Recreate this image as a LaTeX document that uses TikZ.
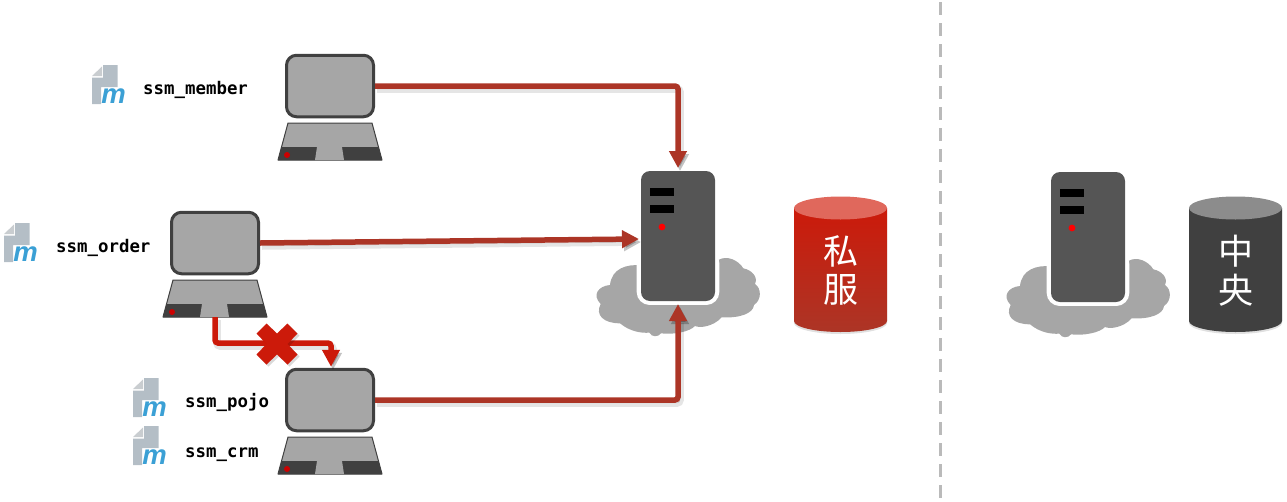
\documentclass[tikz,border=0pt]{standalone}
\usepackage{fontspec}
\setmonofont{DejaVu Sans Mono}
\setsansfont{Liberation Sans}
\newfontfamily\cjkfont{Noto Sans CJK SC}
\usetikzlibrary{arrows.meta,calc}
\definecolor{shellgray}{HTML}{A6A6A6}
\definecolor{edgegray}{HTML}{404040}
\definecolor{towergray}{HTML}{555555}
\definecolor{linkred}{HTML}{AC3526}
\definecolor{brightred}{HTML}{CC1A0A}
\definecolor{filegray}{HTML}{B4BEC6}
\definecolor{foldgray}{HTML}{C9CDD0}
\definecolor{mblue}{HTML}{3BA0D5}
\tikzset{
  x=1pt,y=-1pt,
  screenbox/.style={draw=edgegray,line width=3pt,fill=shellgray,rounded corners=10pt,minimum width=87pt,minimum height=61.5pt,inner sep=0pt,outer sep=1.5pt},
  towerbox/.style={fill=towergray,rounded corners=9pt,minimum width=74pt,minimum height=130pt,inner sep=0pt,outer sep=0pt},
  linkbase/.style={line width=5.5pt,rounded corners=3pt,-{Triangle[length=17pt,width=17pt]},
    preaction={draw=black,opacity=.10,line width=7.5pt,transform canvas={shift={(2,3)}}},
    preaction={draw=black,opacity=.15,transform canvas={shift={(2,3)}}}},
  darklink/.style={linkbase,draw=linkred},
  redlink/.style={linkbase,draw=brightred},
  pomlabel/.style={font=\ttfamily\bfseries\fontsize{17.4pt}{20pt}\selectfont,anchor=base west,inner sep=0pt,text=black},
  cjklabel/.style={font=\cjkfont\fontsize{35pt}{40pt}\selectfont,text=white,inner sep=0pt},
  mglyph/.style={font=\sffamily\bfseries\itshape\fontsize{27.5pt}{30pt}\selectfont,text=mblue,inner sep=0pt},
  laptop/.pic={
    \node[screenbox] (-screen) at (45,32) {};
    \fill[shellgray,draw=edgegray,line width=1pt,line join=round] (3,69) -- (87,69) -- (97,106) -- (-7,106) -- cycle;
    \fill[edgegray] (-3.5,93) -- (93.5,93) -- (97,106) -- (-7,106) -- cycle;
    \fill[shellgray] (32,93) -- (57,93) -- (59,106) -- (30,106) -- cycle;
    \fill[red!80!black] (2,101) circle (3);
    \coordinate (-pad) at (45,106);
  },
  pomicon/.pic={
    \fill[filegray] (0,12.5) -- (11,12.5) -- (11,0) -- (25.5,0) -- (25.5,22) -- (9,22) -- (9,39) -- (0,39) -- cycle;
    \fill[foldgray] (0,11) -- (10,1.5) -- (10,11) -- cycle;
    \node[mglyph] (-m) at (21.5,31) {m};
  },
  cloudshape/.pic={
    \begin{scope}[x=.3333pt,y=-.3333pt]
    \fill[shellgray] (183,316) .. controls (140,312) and (95,325) .. (90,375)
      .. controls (55,378) and (35,405) .. (62,432)
      .. controls (45,465) and (70,490) .. (120,490)
      .. controls (150,515) and (185,520) .. (208,518)
      .. controls (215,532) and (235,532) .. (243,520)
      .. controls (280,525) and (330,515) .. (345,498)
      .. controls (360,505) and (400,500) .. (425,472)
      .. controls (480,475) and (520,460) .. (522,435)
      .. controls (545,420) and (545,385) .. (525,372)
      .. controls (535,350) and (515,330) .. (490,325)
      .. controls (475,300) and (440,285) .. (415,300) -- cycle;
    \fill[white,rounded corners=13pt] (170,270) rectangle (418,435);
    \end{scope}
  },
  towerpic/.pic={
    \node[towerbox] (-box) at (37,65) {};
    \fill[black] (9,17) rectangle (33,25);
    \fill[black] (9,34) rectangle (33,42);
    \fill[red] (21,56) circle (3.4);
  }
}
\begin{document}
\begin{tikzpicture}
\useasboundingbox (0,0) rectangle (1287,501);
% divider
\coordinate (divtop) at (940,2);
\coordinate (divbot) at (940,501);
\draw[color=black!27,line width=3pt,dash pattern=on 13pt off 8pt] (divtop) -- (divbot);
% clouds and servers
\pic at (580,160) {cloudshape};
\pic at (990,161) {cloudshape};
\pic (srv) at (641,171) {towerpic};
\pic (hub) at (1051,172) {towerpic};
% laptops
\pic (mem) at (285,54) {laptop};
\pic (ord) at (170,211) {laptop};
\pic (poj) at (285,368) {laptop};
% links
\draw[darklink] (mem-screen.east) -| ([yshift=3pt]srv-box.north);
\draw[darklink] (ord-screen.east) -- ([xshift=-2pt,yshift=-3pt]srv-box.west);
\draw[darklink] (poj-screen.east) -| ([yshift=-3pt]srv-box.south);
\draw[redlink] (ord-pad) -- ++(0,26) -| ([xshift=1pt,yshift=1pt]poj-screen.north);
% cross
\fill[black,opacity=.15,shift={(279,346)}] (-20.5,-10.5) -- (-10.5,-20.5) -- (0,-10.5) -- (10.5,-20.5) -- (20.5,-10.5) -- (10.5,0) -- (20.5,10.5) -- (10.5,20.5) -- (0,10.5) -- (-10.5,20.5) -- (-20.5,10.5) -- (-10.5,0) -- cycle;
\fill[brightred,shift={(277,344)}] (-20.5,-10.5) -- (-10.5,-20.5) -- (0,-10.5) -- (10.5,-20.5) -- (20.5,-10.5) -- (10.5,0) -- (20.5,10.5) -- (10.5,20.5) -- (0,10.5) -- (-10.5,20.5) -- (-20.5,10.5) -- (-10.5,0) -- cycle;
% drums
\begin{scope}[shift={(794,196)}]
  \fill[black,opacity=.12] (0,14) -- (93,14) -- (93,127) arc[start angle=0,end angle=180,x radius=46.5,y radius=11] -- cycle;
  \shade[top color=brightred,middle color=brightred!85!linkred,bottom color=linkred] (0,12) -- (93,12) -- (93,125) arc[start angle=0,end angle=180,x radius=46.5,y radius=11] -- cycle;
  \fill[color={rgb,255:red,224;green,104;blue,92}] (46.5,12) ellipse[x radius=46.5,y radius=11.5];
  \node[cjklabel] (si) at (46.5,55) {私};
  \node[cjklabel] (fu) at (46.5,94) {服};
\end{scope}
\begin{scope}[shift={(1189,196)}]
  \fill[black,opacity=.12] (0,14) -- (93,14) -- (93,127) arc[start angle=0,end angle=180,x radius=46.5,y radius=11] -- cycle;
  \fill[edgegray] (0,12) -- (93,12) -- (93,125) arc[start angle=0,end angle=180,x radius=46.5,y radius=11] -- cycle;
  \fill[color=black!45] (46.5,12) ellipse[x radius=46.5,y radius=11.5];
  \node[cjklabel] (zh) at (46.5,55) {中};
  \node[cjklabel] (ya) at (46.5,94) {央};
\end{scope}
% icons and labels
\pic (i1) at (92,65) {pomicon};
\pic (i2) at (4,223) {pomicon};
\pic (i3) at (133,378) {pomicon};
\pic (i4) at (133,426) {pomicon};
\node[pomlabel] (l1) at (143,94) {ssm\_member};
\node[pomlabel] (l2) at (56,252) {ssm\_order};
\node[pomlabel] (l3) at (185,407) {ssm\_pojo};
\node[pomlabel] (l4) at (185,457) {ssm\_crm};
\end{tikzpicture}
\end{document}
